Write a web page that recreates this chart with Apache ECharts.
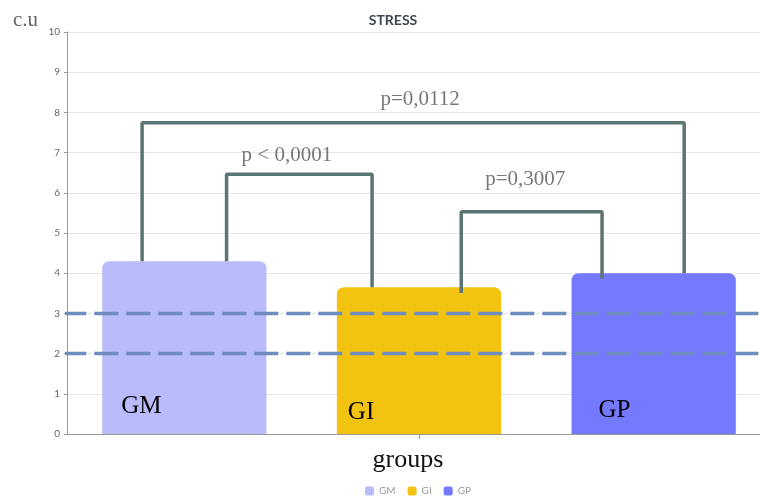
<!DOCTYPE html>
<html>
<head>
<meta charset="utf-8">
<script src="https://cdn.jsdelivr.net/npm/echarts@6/dist/echarts.min.js"></script>
<style>
  html, body { margin: 0; padding: 0; background: #fff; }
  #chart { width: 760px; height: 496px; }
</style>
</head>
<body>
<div id="chart"></div>
<script>
// Groups and mean stress score (c.u)
const groups = ['GM', 'GI', 'GP'];
const stressValues = [4.3, 3.65, 4.0];
const barColors = ['#b9bbfb', '#f2c311', '#7579fe'];

// Reference band limits
const refLevels = [3, 2];

// Significance brackets: [x, y] in category units / stress units
const bracketGmGp = [[-0.18, 4.3], [-0.18, 7.74], [2.13, 7.74], [2.13, 4.0]];
const bracketGmGi = [[0.18, 4.3], [0.18, 6.46], [0.80, 6.46], [0.80, 3.65]];
const bracketGiGp = [[1.18, 3.51], [1.18, 5.53], [1.78, 5.53], [1.78, 3.86]];

// p-value labels and their anchor points
const pLabels = ['p=0,0112', 'p < 0,0001', 'p=0,3007'];
const pLabelX = [1.005, 0.437, 1.453];
const pLabelY = [8.31, 6.94, 6.34];

// y-axis ticks
const yTicks = { min: 0, max: 10, step: 1 };

const serif = '"Liberation Serif", "Times New Roman", serif';
const sans = 'Lato, "Noto Sans", sans-serif';

// per-bar label nudges inside the bar
const labelOffsets = [[14, -10], [6, -4.5], [22, -6.5]];

const barSeries = groups.map((g, i) => ({
  name: g,
  type: 'bar',
  xAxisIndex: 0,
  yAxisIndex: 0,
  barWidth: '70%',
  barGap: '-100%',
  data: groups.map((_, j) => (j === i ? stressValues[i] : '-')),
  itemStyle: { color: barColors[i], borderRadius: [7, 7, 0, 0] },
  label: {
    show: true,
    position: 'insideBottomLeft',
    offset: labelOffsets[i],
    formatter: g,
    fontFamily: serif,
    fontSize: 25,
    color: '#000'
  },
  z: 2
}));

const lineStyleBracket = { color: '#5b7573', width: 3.5 };
const bracketSeries = [bracketGmGp, bracketGmGi, bracketGiGp].map(pts => ({
  type: 'line',
  xAxisIndex: 1,
  yAxisIndex: 0,
  data: pts,
  symbol: 'none',
  clip: false,
  lineStyle: lineStyleBracket,
  silent: true,
  z: 4
}));

const refSeries = refLevels.map(v => ({
  type: 'line',
  xAxisIndex: 1,
  yAxisIndex: 0,
  data: [[-0.52, v], [2.5, v]],
  symbol: 'none',
  clip: false,
  lineStyle: { color: '#6f8cbe', width: 3.5, type: [24, 8] },
  silent: true,
  z: 5
}));

const pSeries = {
  type: 'scatter',
  xAxisIndex: 1,
  yAxisIndex: 0,
  symbolSize: 0,
  silent: true,
  data: pLabels.map((t, i) => ({ value: [pLabelX[i], pLabelY[i]], name: t })),
  label: {
    show: true,
    position: 'inside',
    formatter: p => p.name,
    fontFamily: serif,
    fontSize: 21,
    color: '#555'
  },
  z: 6
};

const chart = echarts.init(document.getElementById('chart'));
chart.setOption({
  animation: false,
  title: [
    {
      text: 'STRESS',
      left: 388,
      top: 8,
      textAlign: 'center',
      textStyle: { fontFamily: sans, fontWeight: 'bold', fontSize: 14, color: '#3f4752' }
    },
    {
      text: 'c.u',
      left: 8,
      top: 5,
      textStyle: { fontFamily: serif, fontWeight: 'normal', fontSize: 21, color: '#666' }
    },
    {
      text: 'groups',
      left: 403,
      top: 442,
      textAlign: 'center',
      textStyle: { fontFamily: serif, fontWeight: 'normal', fontSize: 26, color: '#111' }
    }
  ],
  legend: {
    data: groups,
    left: 360,
    top: 481,
    itemWidth: 9,
    itemHeight: 9,
    itemGap: 12,
    icon: 'roundRect',
    textStyle: { fontFamily: sans, fontSize: 10, color: '#999' }
  },
  grid: { left: 67, top: 32, width: 704, height: 402, outerBoundsMode: 'none' },
  xAxis: [
    {
      type: 'category',
      data: groups,
      axisLabel: { show: false },
      axisLine: { lineStyle: { color: '#999' } },
      axisTick: {
        show: true,
        alignWithLabel: true,
        length: 5,
        interval: (idx) => idx === 1,
        lineStyle: { color: '#999' }
      }
    },
    {
      type: 'value',
      min: -0.5,
      max: 2.5,
      show: false
    }
  ],
  yAxis: {
    type: 'value',
    min: yTicks.min,
    max: yTicks.max,
    interval: yTicks.step,
    axisLine: { show: true, onZero: false, lineStyle: { color: '#999' } },
    axisTick: { show: true, length: 3, lineStyle: { color: '#999' } },
    axisLabel: { fontFamily: sans, fontSize: 10, color: '#666', margin: 7 },
    splitLine: { lineStyle: { color: '#e6e6e6' } }
  },
  series: [...barSeries, ...refSeries, ...bracketSeries, pSeries]
});
</script>
</body>
</html>
